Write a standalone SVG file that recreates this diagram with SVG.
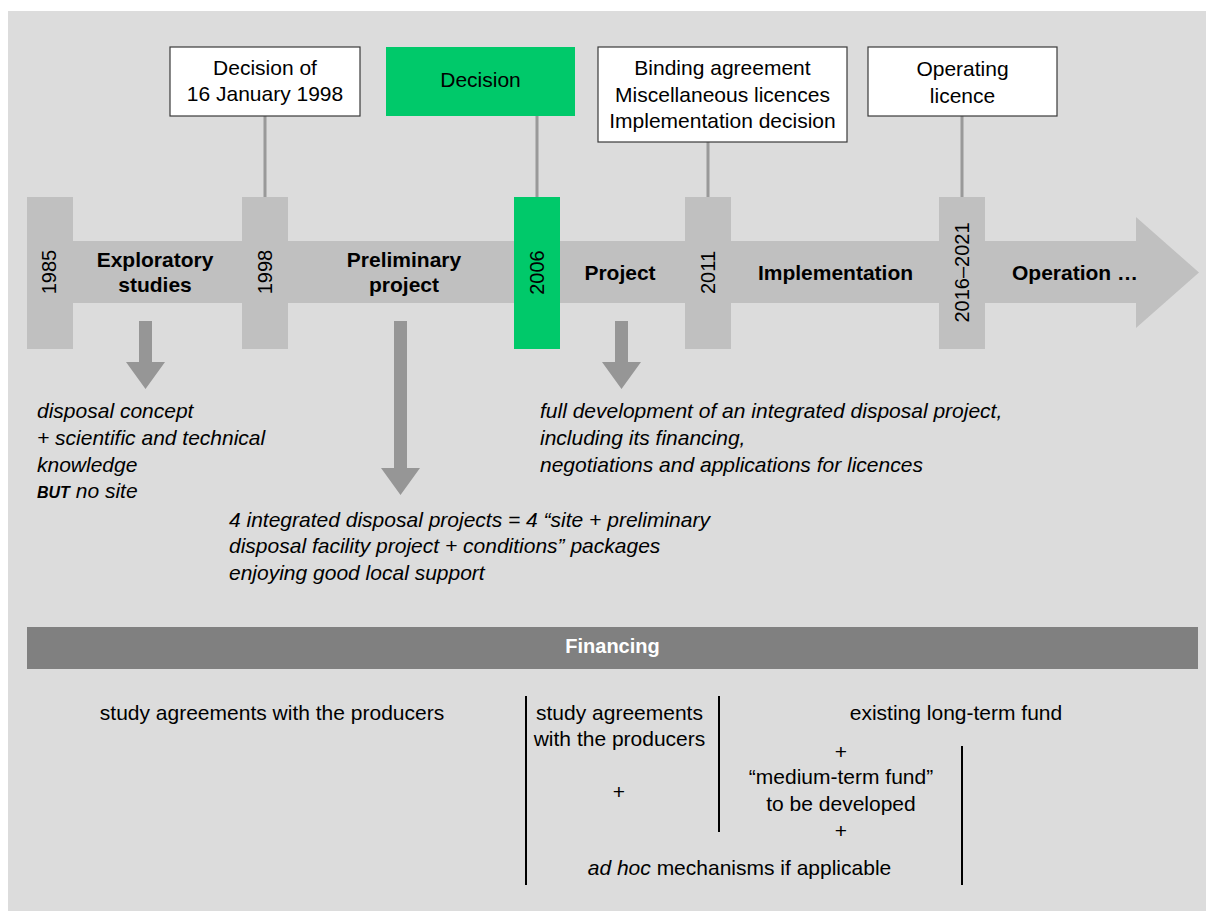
<svg xmlns="http://www.w3.org/2000/svg" width="1206" height="911" viewBox="0 0 1206 911">
  <style>
    text { font-family: "Liberation Sans", Arial, sans-serif; fill: #000; }
    .box { fill: #ffffff; stroke: #3a3a3a; stroke-width: 1.2; }
    .boxtxt { font-size: 21px; text-anchor: middle; }
    .green { fill: #00c96a; }
    .block { fill: #c0c0c0; }
    .year { font-size: 20px; text-anchor: middle; }
    .phase { font-size: 21px; font-weight: bold; text-anchor: middle; }
    .conn { stroke: #999999; stroke-width: 3; fill: none; }
    .darr { fill: #969696; }
    .it { font-size: 21px; font-style: italic; }
    .fin { font-size: 21px; text-anchor: middle; }
    .vline { stroke: #000; stroke-width: 2; }
  </style>
  <rect x="8" y="11" width="1198" height="900" fill="#dcdcdc"/>

  <g id="connectors">
    <line class="conn" x1="265" y1="116" x2="265" y2="197"/>
    <line class="conn" x1="537" y1="116" x2="537" y2="197"/>
    <line class="conn" x1="708" y1="142" x2="708" y2="197"/>
    <line class="conn" x1="962" y1="116" x2="962" y2="197"/>
  </g>

  <g id="timeline">
    <path class="block" d="M73,241 H1136 V217 L1199,272.5 L1136,328 V303 H73 Z"/>
  </g>

  <g id="box-1998">
    <rect class="box" x="170" y="47" width="190" height="69"/>
    <text class="boxtxt" x="265" y="75">Decision of</text>
    <text class="boxtxt" x="265" y="101">16 January 1998</text>
  </g>
  <g id="box-2006">
    <rect class="green" x="386" y="47" width="189" height="69"/>
    <text class="boxtxt" x="480.5" y="87">Decision</text>
  </g>
  <g id="box-2011">
    <rect class="box" x="598" y="47" width="249" height="95"/>
    <text class="boxtxt" x="722.5" y="75">Binding agreement</text>
    <text class="boxtxt" x="722.5" y="101.5">Miscellaneous licences</text>
    <text class="boxtxt" x="722.5" y="128">Implementation decision</text>
  </g>
  <g id="box-2016">
    <rect class="box" x="868" y="47" width="189" height="69"/>
    <text class="boxtxt" x="962.5" y="76">Operating</text>
    <text class="boxtxt" x="962.5" y="103">licence</text>
  </g>

  <g id="year-1985">
    <rect class="block" x="27" y="197" width="46" height="152"/>
    <text class="year" transform="translate(56,272) rotate(-90)">1985</text>
  </g>
  <g id="year-1998">
    <rect class="block" x="242" y="197" width="46" height="152"/>
    <text class="year" transform="translate(272,272) rotate(-90)">1998</text>
  </g>
  <g id="year-2006">
    <rect class="green" x="514" y="197" width="46" height="152"/>
    <text class="year" transform="translate(544,272.5) rotate(-90)">2006</text>
  </g>
  <g id="year-2011">
    <rect class="block" x="685" y="197" width="46" height="152"/>
    <text class="year" transform="translate(715,272.5) rotate(-90)">2011</text>
  </g>
  <g id="year-2016">
    <rect class="block" x="939" y="197" width="46" height="152"/>
    <text class="year" transform="translate(969,272.5) rotate(-90)">2016–2021</text>
  </g>

  <g id="phase-exploratory">
    <text class="phase" x="155" y="267">Exploratory</text>
    <text class="phase" x="155" y="292">studies</text>
  </g>
  <g id="phase-preliminary">
    <text class="phase" x="404" y="267">Preliminary</text>
    <text class="phase" x="404" y="292">project</text>
  </g>
  <g id="phase-project">
    <text class="phase" x="620" y="280">Project</text>
  </g>
  <g id="phase-implementation">
    <text class="phase" x="835.5" y="280">Implementation</text>
  </g>
  <g id="phase-operation">
    <text class="phase" x="1075" y="280">Operation …</text>
  </g>

  <g id="down-arrows">
    <path class="darr" d="M139,321 H152 V362 H165 L145.5,389 L126,362 H139 Z"/>
    <path class="darr" d="M394,321 H407 V468 H420 L400.5,495 L381,468 H394 Z"/>
    <path class="darr" d="M615,321 H628 V362 H641 L621.5,389 L602,362 H615 Z"/>
  </g>

  <g id="result-exploratory">
    <text class="it" x="37" y="418">disposal concept</text>
    <text class="it" x="37" y="445">+ scientific and technical</text>
    <text class="it" x="37" y="472">knowledge</text>
    <text class="it" x="37" y="498"><tspan font-weight="bold" font-size="16px">BUT</tspan> no site</text>
  </g>
  <g id="result-preliminary">
    <text class="it" x="229" y="527">4 integrated disposal projects = 4 “site + preliminary</text>
    <text class="it" x="229" y="553">disposal facility project + conditions” packages</text>
    <text class="it" x="229" y="580">enjoying good local support</text>
  </g>
  <g id="result-project">
    <text class="it" x="540" y="418">full development of an integrated disposal project,</text>
    <text class="it" x="540" y="445">including its financing,</text>
    <text class="it" x="540" y="472">negotiations and applications for licences</text>
  </g>

  <g id="financing-header">
    <rect x="27" y="627" width="1171" height="42" fill="#808080"/>
    <text x="612.5" y="653" font-size="20px" font-weight="bold" fill="#ffffff" text-anchor="middle" style="fill:#ffffff">Financing</text>
  </g>

  <g id="financing-lines">
    <line class="vline" x1="526" y1="696" x2="526" y2="885"/>
    <line class="vline" x1="719" y1="696" x2="719" y2="832"/>
    <line class="vline" x1="962" y1="746" x2="962" y2="885"/>
  </g>

  <g id="financing-exploratory">
    <text class="fin" x="272" y="720">study agreements with the producers</text>
  </g>
  <g id="financing-preliminary">
    <text class="fin" x="619.5" y="720">study agreements</text>
    <text class="fin" x="619.5" y="746">with the producers</text>
    <text class="fin" x="619" y="799">+</text>
  </g>
  <g id="financing-project">
    <text class="fin" x="956" y="720">existing long-term fund</text>
    <text class="fin" x="841" y="759">+</text>
    <text class="fin" x="841" y="784">“medium-term fund”</text>
    <text class="fin" x="841" y="811">to be developed</text>
    <text class="fin" x="841" y="838">+</text>
  </g>
  <g id="financing-adhoc">
    <text class="fin" x="739.5" y="875"><tspan font-style="italic">ad hoc</tspan> mechanisms if applicable</text>
  </g>
</svg>
